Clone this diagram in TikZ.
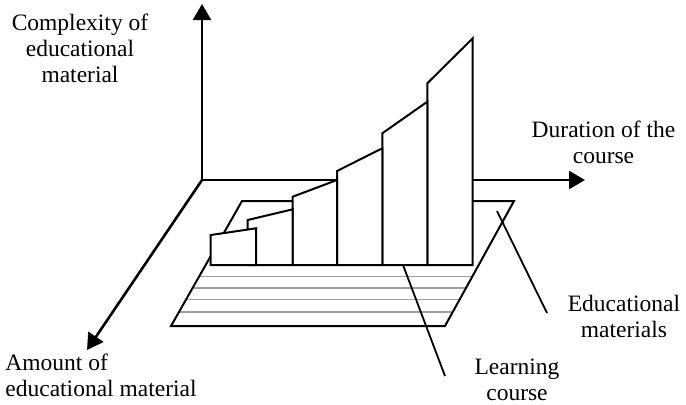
\documentclass[tikz,border=0pt]{standalone}
\usepackage{fontspec}
\setmainfont{Liberation Serif}
\usetikzlibrary{arrows.meta,calc}
\definecolor{gridgrey}{HTML}{A0A0A0}

\begin{document}
\begin{tikzpicture}[
    x=0.5pt, y=-0.5pt,
    lbl/.style={inner sep=0pt, align=center, font=\fontsize{11.75}{12.85}\selectfont},
    axis/.style={line width=1.3pt, -{Triangle[length=8pt,width=9pt]}},
    bar/.style={draw, fill=white, line width=1pt},
    rim/.style={line width=1pt},
    grid/.style={draw=gridgrey, line width=0.7pt},
    pointer/.style={line width=0.9pt},
]
\useasboundingbox (0,0) rectangle (686,404);

% ---- axes ---------------------------------------------------------------------
\coordinate (O)     at (202,180);
\coordinate (up)    at (202,4);
\coordinate (right) at (585,180);
\coordinate (down)  at (87,350);
\draw[axis, {Triangle[length=8pt,width=9pt]}-{Triangle[length=8pt,width=9pt]}] (up) -- (O) -- (right);
\draw[axis, line cap=round] (O) -- (down);

% ---- platform -----------------------------------------------------------------
\coordinate (pA) at (242,201);
\coordinate (pB) at (514,201);
\coordinate (pC) at (445,326);
\coordinate (pD) at (171,326);
\foreach \t in {0.605,0.695,0.787,0.888}
  \draw[grid] ($(pA)!\t!(pD)$) -- ($(pB)!\t!(pC)$);
\draw[rim] (pA) -- (pB) -- (pC) -- (pD) -- cycle;

% ---- bars, back to front --------------------------------------------------------
\foreach \xl/\xr/\yl/\yr in {427.3/472.7/83.3/38.3, 382.3/427.3/133.3/101.7,
                             337/382.3/171/148.3, 292.7/337/196.7/180,
                             247.7/292.7/220/209.3, 210.7/256/235/228.3}
  \draw[bar] (\xl,265) -- (\xl,\yl) -- (\xr,\yr) -- (\xr,265) -- cycle;

% ---- labels -----------------------------------------------------------------------
\node[lbl, anchor=north] (complexity) at (80,14) {Complexity of\\educational\\material};
\node[lbl, anchor=north] (duration) at (603.5,121) {Duration of the\\course};
\node[lbl, anchor=north] (edumat) at (624,295) {Educational\\materials};
\node[lbl, anchor=north] (learning) at (517,359) {Learning\\course};
\node[lbl, anchor=north west, align=left] (amount) at (5,354) {Amount of\\educational material};

% ---- pointers ---------------------------------------------------------------------
\coordinate (lcTip) at (403,265);
\coordinate (lcEnd) at (445,376);
\coordinate (emTip) at (497,211);
\coordinate (emEnd) at (547,313);
\draw[pointer] (lcTip) -- (lcEnd);
\draw[pointer] (emTip) -- (emEnd);

\end{tikzpicture}
\end{document}
